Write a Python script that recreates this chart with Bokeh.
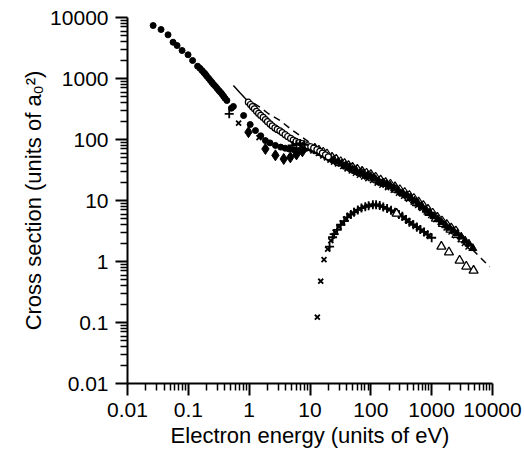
from bokeh.plotting import figure
from bokeh.models import Range1d, FixedTicker, CustomJSTickFormatter
from bokeh.embed import file_html
from bokeh.resources import INLINE

# ---- tick labels ----
major_ticks = [0.01, 0.1, 1, 10, 100, 1000, 10000]

# ---- filled circles: low-energy total cross section + lower branch ----
circ_x = [0.0264, 0.0356, 0.0464, 0.0561, 0.0653, 0.0789, 0.0989, 0.1175, 0.142,
          0.155, 0.168, 0.18, 0.19, 0.2, 0.215, 0.23, 0.245, 0.26, 0.28, 0.3,
          0.32, 0.34, 0.36, 0.38, 0.4, 0.43,
          0.51, 0.55, 0.81, 1.04, 1.27, 1.55, 1.85, 2.2, 2.7, 3.3, 3.9, 4.5, 5.4, 6.5, 7.6, 8.8]
circ_y = [7390, 6360, 5200, 3935, 3475, 2878, 2450, 1972, 1591,
          1470, 1350, 1250, 1180, 1100, 1010, 930, 860, 800, 740, 680,
          630, 590, 550, 510, 475, 436,
          326, 348, 247, 176, 140, 115, 96, 88, 80, 75, 72, 70, 68, 66, 68, 72]

# ---- open circles: upper branch ----
ocirc_x = [0.97, 1.05, 1.13, 1.22, 1.32, 1.43, 1.55, 1.7, 1.85, 2.0, 2.2, 2.4, 2.65,
           2.9, 3.2, 3.5, 3.9, 4.3, 4.8, 5.3, 5.9, 6.6, 7.4, 8.2, 9.2, 10.3, 11.5, 13, 14.5, 16, 18, 20]
ocirc_y = [409, 375, 345, 318, 290, 268, 248, 230, 212, 196, 180, 167, 155,
           146, 139, 130, 120, 112, 104, 98, 93, 89, 86, 82, 79, 76, 72, 68, 64, 60, 56, 52]

# ---- filled diamonds: lower branch ----
diam_x = [0.974, 1.85, 2.7, 3.7, 4.75, 6.0, 7.5]
diam_y = [132, 70, 55, 48, 51, 57, 64]

# ---- plus signs: lower branch ----
plus_lo_x = [0.47, 5.1, 6.0, 6.9, 8.0]
plus_lo_y = [264, 80, 84, 86, 82]

# ---- x marks: lower branch ----
xm_lo_x = [0.67, 1.45]
xm_lo_y = [185, 107]

# ---- ionization curve: x marks ----
ion_x_x = [13.2, 15.0, 17.0, 19.5, 22, 26, 30, 34, 39, 44, 50, 57, 66, 76, 88, 100,
           115, 130, 150, 172, 200, 230, 265, 305, 350, 400, 460, 530, 610, 700, 800, 900]
ion_x_y = [0.122, 0.475, 1.07, 1.6, 2.2, 3.0, 3.7, 4.3, 5.0, 5.7, 6.2, 6.8, 7.3, 7.8, 8.2, 8.4,
           8.5, 8.4, 8.0, 7.6, 7.1, 6.6, 6.2, 5.7, 5.2, 4.7, 4.3, 3.9, 3.55, 3.2, 2.9, 2.65]

# ---- ionization curve: plus signs ----
ion_p_x = [21, 23.5, 25, 28, 32, 36.5, 41, 47, 53, 61, 70, 81, 92, 108, 122, 140,
           160, 185, 215, 250, 290, 330, 380, 430, 500, 570, 650, 750, 860, 1000]
ion_p_y = [1.75, 2.5, 2.8, 3.3, 4.0, 4.6, 5.3, 5.9, 6.4, 7.0, 7.5, 7.9, 8.2, 8.5, 8.5, 8.3,
           7.85, 7.4, 6.9, 6.4, 5.9, 5.5, 4.9, 4.4, 4.0, 3.65, 3.35, 3.05, 2.75, 2.45]

# ---- open triangles: ionization, high energy ----
ion_t_x = [265, 1443, 1923, 2878, 3707, 4886]
ion_t_y = [6.1, 1.76, 1.42, 1.04, 0.83, 0.71]

# ---- filled triangles: total cross section band ----
tri_x = [10, 11.5, 13, 15, 17, 19.5, 22, 25, 29, 33, 38, 44, 50, 58, 67, 77, 89, 100,
         115, 135, 155, 180, 210, 245, 285, 330, 385, 450, 520, 600, 700, 810, 940,
         1090, 1260, 1460, 1700, 1970, 2280, 2640, 3060, 3550, 4100, 4750]
tri_y = [72, 68, 64, 60, 56, 52, 48.5, 46, 43, 40, 37, 35, 32.5, 30.5, 28.5, 27.5, 26, 24.8,
         23, 20.8, 19.5, 18.5, 17.3, 15.8, 14.5, 13.2, 12.1, 11.0, 9.9, 8.9, 7.9, 7.0, 6.3,
         5.5, 4.9, 4.4, 3.9, 3.55, 3.2, 2.85, 2.55, 2.2, 1.95, 1.65]

# ---- open triangles: total cross section band ----
otri_x = [30, 40, 55, 70, 90, 120, 160, 200, 260, 340, 420, 560, 700, 900, 1150, 1500, 2000, 2500, 3200]
otri_y = [41, 36, 31, 28.5, 25, 22, 19.5, 17, 15, 12.8, 11, 9.0, 7.7, 6.2, 5.0, 4.1, 3.3, 2.7, 2.3]

# ---- open diamonds: total cross section band (upper edge) ----
odiam_x = [12, 14, 16.5, 19, 23, 27, 32, 37, 43, 50, 60, 72, 85, 100, 120, 145, 175, 210,
           250, 300, 360, 430, 510, 610, 730, 870, 1040, 1240, 1480, 1770, 2100, 2500]
odiam_y = [73, 68, 63, 59, 52, 48, 44, 41, 38, 35.5, 33, 30.5, 28.5, 27, 24.5, 22, 20, 18.8,
           17, 15.3, 13.8, 12.3, 11, 9.6, 8.4, 7.3, 6.3, 5.4, 4.7, 4.1, 3.6, 3.2]

# ---- x marks: total cross section band (lower edge) ----
bx_x = [11, 13.5, 16, 18.5, 21, 24, 28, 34, 40, 47, 55, 64, 75, 88, 105, 125, 150, 185,
        230, 280, 340, 410, 490, 580, 680, 800, 950, 1150, 1400, 1700, 2050, 2450, 2900, 3400, 3900]
bx_y = [64, 58, 53, 49, 45, 42, 39, 35.5, 32.5, 30, 27.5, 25.5, 24, 22.5, 21, 19, 17.5, 16,
        14.5, 13, 11.6, 10.3, 9.2, 8.2, 7.3, 6.4, 5.6, 4.8, 4.1, 3.5, 3.0, 2.6, 2.25, 1.95, 1.7]

# ---- solid line (theory, low energy) ----
solid_x = [0.55, 0.7, 0.85, 1.0, 1.3, 1.7, 2.3, 3.2, 4.5, 6.9, 10]
solid_y = [770, 590, 480, 405, 310, 235, 180, 140, 110, 90, 78]

# ---- dashed line (theory) ----
dash_x = [1.2, 1.5, 2.05, 3.22, 4.7, 6.86, 10, 15, 20, 30, 50, 100, 200, 435, 1000,
          2000, 3260, 4750, 6530, 9000]
dash_y = [390, 339, 267, 205, 151, 116, 88, 66, 55, 44, 33, 24.5, 16.5, 10.5, 5.5,
          3.4, 2.3, 1.55, 1.12, 0.82]

FONT = "Liberation Sans"

p = figure(x_axis_type="log", y_axis_type="log",
           x_range=Range1d(0.01, 10000), y_range=Range1d(0.01, 10000),
           frame_width=365, frame_height=366,
           min_border_left=127, min_border_right=31, min_border_top=17, min_border_bottom=10,
           output_backend="svg", toolbar_location=None)
p.outline_line_color = None
p.xgrid.visible = False
p.ygrid.visible = False
p.background_fill_color = "white"
p.border_fill_color = "white"

minor = [m * 10.0 ** e for e in range(-2, 4) for m in range(2, 10)]
fmt = CustomJSTickFormatter(code="return tick.toString();")
for ax in (p.xaxis[0], p.yaxis[0]):
    ax.ticker = FixedTicker(ticks=major_ticks, minor_ticks=minor)
    ax.formatter = fmt
    ax.axis_line_width = 2
    ax.axis_line_color = "black"
    ax.major_tick_line_width = 2
    ax.minor_tick_line_width = 1.5
    ax.major_tick_line_color = "black"
    ax.minor_tick_line_color = "black"
    ax.major_tick_out = 12
    ax.major_tick_in = 0
    ax.minor_tick_out = 7
    ax.minor_tick_in = 0
    ax.major_label_text_font = FONT
    ax.major_label_text_font_size = "21px"
    ax.major_label_text_color = "black"
    ax.major_label_standoff = 7
    ax.axis_label_text_font = FONT
    ax.axis_label_text_font_size = "22px"
    ax.axis_label_text_font_style = "normal"
    ax.axis_label_text_color = "black"

p.xaxis.axis_label = "Electron energy (units of eV)"
p.yaxis.axis_label = "Cross section (units of a\u2080\u00b2)"
p.xaxis.axis_label_standoff = 3
p.yaxis.axis_label_standoff = 1

# lines
p.line(solid_x, solid_y, line_color="black", line_width=1.5)
p.line(dash_x, dash_y, line_color="black", line_width=1.5, line_dash="7 5")

# markers
p.scatter(bx_x, bx_y, marker="x", size=6, line_color="black", line_width=1.5)
p.scatter(odiam_x, odiam_y, marker="diamond", size=9, fill_color="white", line_color="black", line_width=1.2)
p.scatter(otri_x, otri_y, marker="triangle", size=8, fill_color="white", line_color="black", line_width=1.2)
p.scatter(tri_x, tri_y, marker="triangle", size=8, fill_color="black", line_color="black")
p.scatter(circ_x, circ_y, marker="circle", size=6, fill_color="black", line_color="black")
p.scatter(ocirc_x, ocirc_y, marker="circle", size=6, fill_color="white", line_color="black", line_width=1.2)
p.scatter(diam_x, diam_y, marker="diamond", size=11, fill_color="black", line_color="black")
p.scatter(plus_lo_x, plus_lo_y, marker="cross", size=9, line_color="black", line_width=1.8)
p.scatter(xm_lo_x, xm_lo_y, marker="x", size=7, line_color="black", line_width=1.8)
p.scatter(ion_x_x, ion_x_y, marker="x", size=7, line_color="black", line_width=1.8)
p.scatter(ion_p_x, ion_p_y, marker="cross", size=9, line_color="black", line_width=1.8)
p.scatter(ion_t_x, ion_t_y, marker="triangle", size=9, fill_color="white", line_color="black", line_width=1.3)

open("out.html", "w").write(file_html(p, INLINE))
